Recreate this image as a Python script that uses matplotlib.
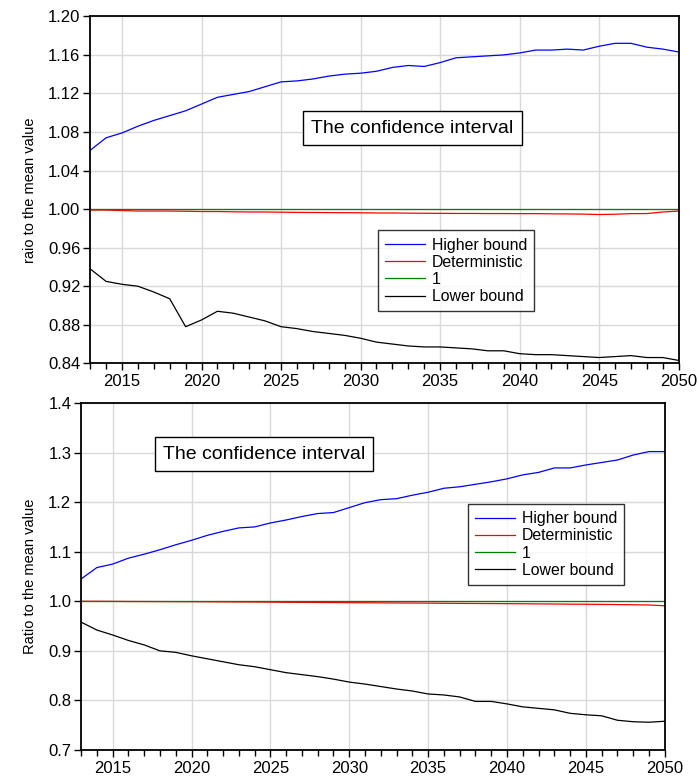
import matplotlib
matplotlib.use("Agg")
from matplotlib import pyplot as plt
from matplotlib.ticker import MultipleLocator
import numpy as np

plt.rcParams['font.family'] = ['Liberation Sans', 'DejaVu Sans']

years = np.arange(2013, 2051)

# top panel
top_high = [1.061, 1.074, 1.079, 1.086, 1.092, 1.097, 1.102, 1.109, 1.116, 1.119,
            1.122, 1.127, 1.132, 1.133, 1.135, 1.138, 1.140, 1.141, 1.143, 1.147,
            1.149, 1.148, 1.152, 1.157, 1.158, 1.159, 1.160, 1.162, 1.165, 1.165,
            1.166, 1.165, 1.169, 1.172, 1.172, 1.168, 1.166, 1.163]
top_det = [0.999, 0.999, 0.9985, 0.998, 0.998, 0.998, 0.9978, 0.9975, 0.9975, 0.9972,
           0.997, 0.997, 0.9968, 0.9966, 0.9965, 0.9964, 0.9963, 0.9962, 0.996, 0.996,
           0.9958, 0.9957, 0.9956, 0.9955, 0.9955, 0.9954, 0.9954, 0.9953, 0.9953, 0.9951,
           0.995, 0.9948, 0.9944, 0.9947, 0.9953, 0.9954, 0.997, 0.998]
top_low = [0.938, 0.925, 0.922, 0.920, 0.914, 0.907, 0.878, 0.885, 0.894, 0.892,
           0.888, 0.884, 0.878, 0.876, 0.873, 0.871, 0.869, 0.866, 0.862, 0.860,
           0.858, 0.857, 0.857, 0.856, 0.855, 0.853, 0.853, 0.850, 0.849, 0.849,
           0.848, 0.847, 0.846, 0.847, 0.848, 0.846, 0.846, 0.843]

# bottom panel
bot_high = [1.045, 1.068, 1.075, 1.087, 1.095, 1.104, 1.114, 1.123, 1.133, 1.141,
            1.148, 1.150, 1.158, 1.164, 1.171, 1.177, 1.179, 1.189, 1.199, 1.205,
            1.207, 1.214, 1.220, 1.228, 1.231, 1.236, 1.241, 1.247, 1.255, 1.260,
            1.269, 1.269, 1.275, 1.280, 1.285, 1.295, 1.302, 1.302]
bot_det = [1.000, 1.000, 0.9998, 0.9996, 0.9995, 0.9994, 0.9993, 0.9992, 0.999, 0.9988,
           0.9986, 0.9985, 0.9983, 0.998, 0.9978, 0.9976, 0.9974, 0.9972, 0.997, 0.9968,
           0.9966, 0.9965, 0.9963, 0.996, 0.9958, 0.9956, 0.9954, 0.9952, 0.995, 0.9947,
           0.9945, 0.9942, 0.994, 0.9937, 0.9934, 0.993, 0.9925, 0.991]
bot_low = [0.958, 0.942, 0.932, 0.921, 0.912, 0.900, 0.897, 0.890, 0.884, 0.878,
           0.872, 0.868, 0.862, 0.856, 0.852, 0.848, 0.843, 0.837, 0.833, 0.828,
           0.823, 0.819, 0.813, 0.811, 0.807, 0.798, 0.798, 0.793, 0.787, 0.784,
           0.781, 0.774, 0.771, 0.769, 0.760, 0.757, 0.756, 0.758]

labels = ["Higher bound", "Deterministic", "1", "Lower bound"]
colors = ["#0000ff", "#ff0000", "#008000", "#000000"]


def panel(ax, high, det, low, ylim, ystep, yfmt, ylabel, box_xy, leg_bbox):
    series = [high, det, np.ones(len(years)), low]
    for s, lab, c in zip(series, labels, colors):
        ax.plot(years, s, color=c, lw=0.9, label=lab)
    ax.set_xlim(2013, 2050)
    ax.set_ylim(*ylim)
    ax.xaxis.set_major_locator(MultipleLocator(5))
    ax.xaxis.set_minor_locator(MultipleLocator(1))
    ax.yaxis.set_major_locator(MultipleLocator(ystep))
    ax.yaxis.set_major_formatter(plt.FormatStrFormatter(yfmt))
    ax.grid(True, which="major", color="#d9d9d9", lw=1)
    ax.set_axisbelow(True)
    ax.tick_params(which="both", direction="out", labelsize=12, width=1, colors="black")
    ax.tick_params(which="major", length=5)
    ax.tick_params(which="minor", length=4)
    ax.tick_params(axis="x", pad=3)
    ax.tick_params(axis="y", pad=2)
    for sp in ax.spines.values():
        sp.set_linewidth(1.3)
        sp.set_color("black")
    ax.set_ylabel(ylabel, fontsize=10.5, labelpad=8)
    ax.text(box_xy[0], box_xy[1], "The confidence interval", fontsize=14,
            ha="center", va="center",
            bbox=dict(boxstyle="square,pad=0.42", fc="white", ec="black", lw=1))
    leg = ax.legend(loc="upper left", bbox_to_anchor=leg_bbox, fontsize=11.4,
                    frameon=True, fancybox=False, handlelength=2.5,
                    labelspacing=0.14, borderpad=0.45, handletextpad=0.45,
                    borderaxespad=0)
    leg.get_frame().set_edgecolor("black")
    leg.get_frame().set_linewidth(1)


fig = plt.figure(figsize=(6.99, 7.78), dpi=100)
ax1 = fig.add_axes([0.129, 0.533, 0.842, 0.446])
ax2 = fig.add_axes([0.116, 0.036, 0.835, 0.446])

panel(ax1, top_high, top_det, top_low, (0.84, 1.20), 0.04, "%.2f",
      "raio to the mean value", (2033.25, 1.084), (0.489, 0.383))
panel(ax2, bot_high, bot_det, bot_low, (0.7, 1.4), 0.1, "%.1f",
      "Ratio to the mean value", (2024.6, 1.297), (0.663, 0.709))

fig.savefig("out.png", dpi=100)
